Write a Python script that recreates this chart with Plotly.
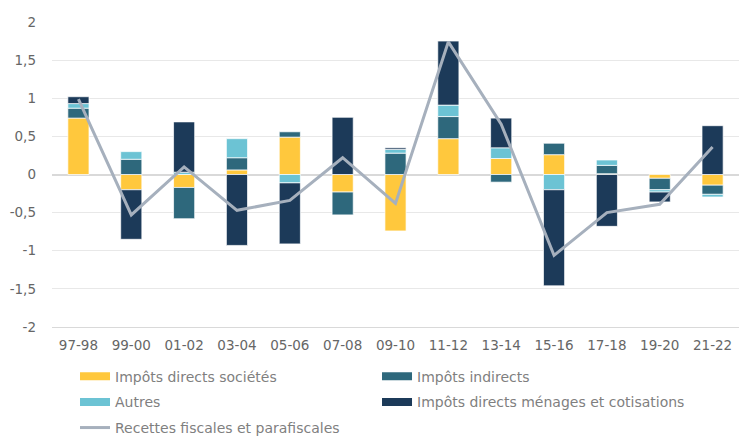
import plotly.graph_objects as go

categories = ['97-98', '99-00', '01-02', '03-04', '05-06', '07-08', '09-10',
              '11-12', '13-14', '15-16', '17-18', '19-20', '21-22']
societes = [0.74, -0.20, -0.17, 0.06, 0.49, -0.23, -0.74, 0.47, 0.21, 0.26, 0.01, -0.05, -0.14]
indirects = [0.13, 0.20, -0.41, 0.16, 0.07, -0.30, 0.28, 0.29, -0.10, 0.15, 0.11, -0.15, -0.12]
autres = [0.06, 0.10, 0.03, 0.25, -0.11, 0.00, 0.05, 0.15, 0.14, -0.20, 0.07, -0.03, -0.035]
menages = [0.09, -0.65, 0.66, -0.93, -0.80, 0.75, 0.02, 0.84, 0.39, -1.26, -0.68, -0.13, 0.64]
recettes = [0.99, -0.53, 0.10, -0.47, -0.34, 0.22, -0.38, 1.74, 0.66, -1.06, -0.50, -0.39, 0.36]

y_ticks = [-2, -1.5, -1, -0.5, 0, 0.5, 1, 1.5, 2]
y_labels = ['-2', '-1,5', '-1', '-0,5', '0', '0,5', '1', '1,5', '2']

series = [
    ('Impôts directs sociétés', societes, '#FFC83D', 'legend'),
    ('Impôts indirects', indirects, '#2E687C', 'legend4'),
    ('Autres', autres, '#6CC3D4', 'legend2'),
    ('Impôts directs ménages et cotisations', menages, '#1C3A59', 'legend5'),
]
line_color = '#A6B0BD'
font = 'DejaVu Sans'

fig = go.Figure()
for name, vals, color, _ in series:
    fig.add_trace(go.Bar(x=categories, y=vals, name=name, marker_color=color,
                         marker_line=dict(color='rgba(255,255,255,0.7)', width=1),
                         showlegend=False))
fig.add_trace(go.Scatter(x=categories, y=recettes, mode='lines', name='Recettes fiscales et parafiscales',
                         line=dict(color=line_color, width=3), showlegend=False))

# legend proxies (flat rectangles like the original), one legend per slot
for name, vals, color, lg in series:
    fig.add_trace(go.Scatter(x=[None], y=[None], mode='lines', name=name,
                             line=dict(color=color, width=8), legend=lg))
fig.add_trace(go.Scatter(x=[None], y=[None], mode='lines', name='Recettes fiscales et parafiscales',
                         line=dict(color=line_color, width=3), legend='legend3'))

leg = dict(xanchor='left', yanchor='middle', bgcolor='rgba(0,0,0,0)',
           font=dict(family=font, size=14, color='#7F7F7F'))
col1, col2 = 0.0335, 0.0335 + 302 / 687
row1, row2, row3 = -0.163, -0.247, -0.331
fig.update_layout(
    width=739, height=444,
    margin=dict(l=52, r=0, t=22, b=112),
    plot_bgcolor='white', paper_bgcolor='white',
    barmode='relative', bargap=0.6,
    legend=dict(leg, x=col1, y=row1),
    legend2=dict(leg, x=col1, y=row2),
    legend3=dict(leg, x=col1, y=row3),
    legend4=dict(leg, x=col2, y=row1),
    legend5=dict(leg, x=col2, y=row2),
    xaxis=dict(type='category', automargin=False,
               tickfont=dict(family=font, size=13.5, color='#666666'),
               showline=True, linecolor='#D9D9D9', linewidth=1, ticklabelstandoff=6),
    yaxis=dict(range=[-2, 2], tickvals=y_ticks, ticktext=y_labels, automargin=False,
               tickfont=dict(family=font, size=13.5, color='#666666'),
               gridcolor='#E8E8E8', gridwidth=1, zeroline=True, zerolinecolor='#D9D9D9',
               zerolinewidth=2, ticklabelstandoff=15),
)

fig.write_html("out.html", config={'displayModeBar': False},
               post_script="document.body.style.margin='0';")
